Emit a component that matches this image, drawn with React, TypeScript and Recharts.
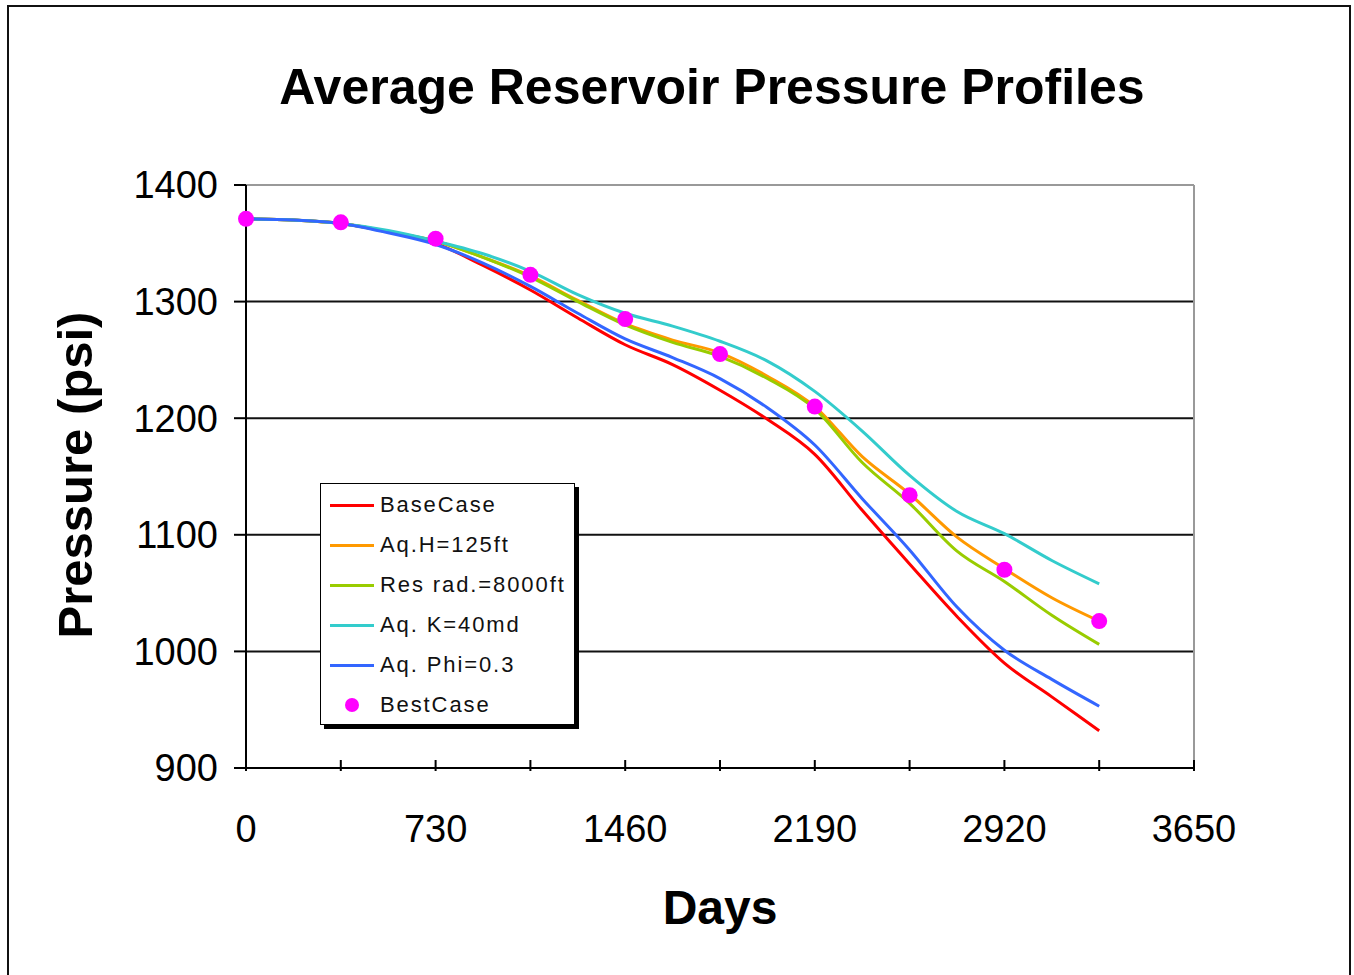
import React from 'react';
import { ComposedChart, Line, XAxis, YAxis, CartesianGrid, Legend, ReferenceLine } from 'recharts';

// days on the simulation grid (half-year steps)
const days = [0, 182.5, 365, 547.5, 730, 912.5, 1095, 1277.5, 1460, 1642.5, 1825, 2007.5, 2190, 2372.5, 2555, 2737.5, 2920, 3102.5, 3285];

const baseCase = [1371, 1370, 1367, 1360, 1350, 1331, 1310, 1286, 1263, 1246, 1224, 1199, 1169, 1121, 1075, 1030, 990, 961, 932];
const aqH125 = [1371, 1370, 1367, 1360, 1352, 1338, 1322, 1301, 1281, 1267, 1256, 1236, 1210, 1167, 1135, 1098, 1071, 1046, 1026];
const resRad8000 = [1371, 1370, 1367, 1360, 1352, 1338, 1321, 1300, 1280, 1265, 1253, 1234, 1208, 1162, 1127, 1086, 1060, 1031, 1006];
const aqK40 = [1371, 1370, 1367, 1361, 1352, 1341, 1326, 1306, 1290, 1279, 1266, 1249, 1223, 1189, 1151, 1120, 1101, 1078, 1058];
const aqPhi03 = [1371, 1370, 1367, 1359, 1349, 1333, 1313, 1290, 1268, 1252, 1234, 1209, 1177, 1131, 1087, 1038, 1001, 976, 953];

const bestCaseDays = [0, 365, 730, 1095, 1460, 1825, 2190, 2555, 2920, 3285];
const bestCase = [1371, 1368, 1354, 1323, 1285, 1255, 1210, 1134, 1070, 1026];

const xTicks = [0, 365, 730, 1095, 1460, 1825, 2190, 2555, 2920, 3285, 3650];
const xLabels = [0, 730, 1460, 2190, 2920, 3650];
const yTicks = [900, 1000, 1100, 1200, 1300, 1400];

const series = [
  { key: 'base', name: 'BaseCase', color: '#ff0000', values: baseCase },
  { key: 'aqH', name: 'Aq.H=125ft', color: '#ff9900', values: aqH125 },
  { key: 'resRad', name: 'Res rad.=8000ft', color: '#99cc00', values: resRad8000 },
  { key: 'aqK', name: 'Aq. K=40md', color: '#33cccc', values: aqK40 },
  { key: 'aqPhi', name: 'Aq. Phi=0.3', color: '#3366ff', values: aqPhi03 },
];

const data = days.map((d, i) => {
  const row: any = { day: d };
  series.forEach(s => { row[s.key] = s.values[i]; });
  const bi = bestCaseDays.indexOf(d);
  if (bi >= 0) row.best = bestCase[bi];
  return row;
});

const FONT = '"Liberation Sans", Arial, sans-serif';

const DayTick = (props: any) => {
  const { x, y, payload } = props;
  const show = xLabels.includes(payload.value);
  return (
    <g>
      <line x1={x} x2={x} y1={y - 8} y2={y + 3} stroke="#000" strokeWidth={2} />
      {show && (
        <text x={x} y={y + 74} textAnchor="middle" fontSize={38} fill="#000" fontFamily={FONT}>
          {payload.value}
        </text>
      )}
    </g>
  );
};

const LegendBox = () => (
  <div style={{
    width: 255, height: 242, background: '#fff', border: '1.5px solid #000',
    boxShadow: '4px 4px 0 #000', fontFamily: FONT, fontSize: 22, letterSpacing: 1.9,
    color: '#111', paddingTop: 1, boxSizing: 'border-box',
  }}>
    {series.map(s => (
      <div key={s.key} style={{ height: 40, display: 'flex', alignItems: 'center' }}>
        <div style={{ width: 44, height: 3, background: s.color, marginLeft: 9, marginRight: 6 }} />
        <span>{s.name}</span>
      </div>
    ))}
    <div style={{ height: 40, display: 'flex', alignItems: 'center' }}>
      <div style={{ width: 44, marginLeft: 9, marginRight: 6, display: 'flex', justifyContent: 'center' }}>
        <div style={{ width: 14, height: 14, borderRadius: '50%', background: '#ff00ff' }} />
      </div>
      <span>BestCase</span>
    </div>
  </div>
);

export default function App() {
  return (
    <div style={{ position: 'absolute', left: 0, top: 0, width: 1354, height: 975, overflow: 'hidden', background: '#fff', fontFamily: FONT }}>
      {/* outer frame, open at the bottom */}
      <div style={{ position: 'absolute', left: 7, top: 5, width: 1340, height: 975, border: '2px solid #111', borderBottom: 'none' }} />

      <div style={{ position: 'absolute', left: 212, top: 62, width: 1000, textAlign: 'center', fontSize: 50, fontWeight: 'bold', lineHeight: 1, color: '#000' }}>
        Average Reservoir Pressure Profiles
      </div>
      <div style={{ position: 'absolute', left: 470, top: 884, width: 500, textAlign: 'center', fontSize: 48, fontWeight: 'bold', lineHeight: 1, color: '#000' }}>
        Days
      </div>
      <div style={{ position: 'absolute', left: -175, top: 450, width: 500, height: 50, lineHeight: '50px', textAlign: 'center', fontSize: 49, fontWeight: 'bold', color: '#000', transform: 'rotate(-90deg)' }}>
        Pressure (psi)
      </div>

      <div style={{ position: 'absolute', left: 0, top: 0 }}>
        <ComposedChart width={1354} height={975} data={data} margin={{ top: 185, right: 160, bottom: 107, left: 106 }}>
          <CartesianGrid vertical={false} stroke="#111" strokeWidth={2} />
          <ReferenceLine y={1400} stroke="#999" strokeWidth={2} />
          <ReferenceLine x={3650} stroke="#999" strokeWidth={2} />
          <XAxis
            dataKey="day"
            type="number"
            domain={[0, 3650]}
            ticks={xTicks}
            interval={0}
            height={100}
            tickSize={0}
            tickMargin={0}
            tickLine={false}
            axisLine={{ stroke: '#000', strokeWidth: 2 }}
            tick={<DayTick />}
          />
          <YAxis
            type="number"
            domain={[900, 1400]}
            ticks={yTicks}
            interval={0}
            width={140}
            tickSize={12}
            tickMargin={16}
            tickLine={{ stroke: '#000', strokeWidth: 2 }}
            axisLine={{ stroke: '#000', strokeWidth: 2 }}
            tick={{ fontSize: 38, fill: '#000', fontFamily: FONT }}
          />
          {series.map(s => (
            <Line
              key={s.key}
              dataKey={s.key}
              name={s.name}
              type="monotone"
              stroke={s.color}
              strokeWidth={3}
              dot={false}
              isAnimationActive={false}
            />
          ))}
          <Line
            dataKey="best"
            name="BestCase"
            stroke="none"
            dot={{ r: 8, fill: '#ff00ff', stroke: 'none' }}
            isAnimationActive={false}
          />
          <Legend
            layout="vertical"
            align="center"
            verticalAlign="middle"
            wrapperStyle={{ left: 320, top: 483, width: 259, height: 246 }}
            content={<LegendBox />}
          />
        </ComposedChart>
      </div>
    </div>
  );
}
